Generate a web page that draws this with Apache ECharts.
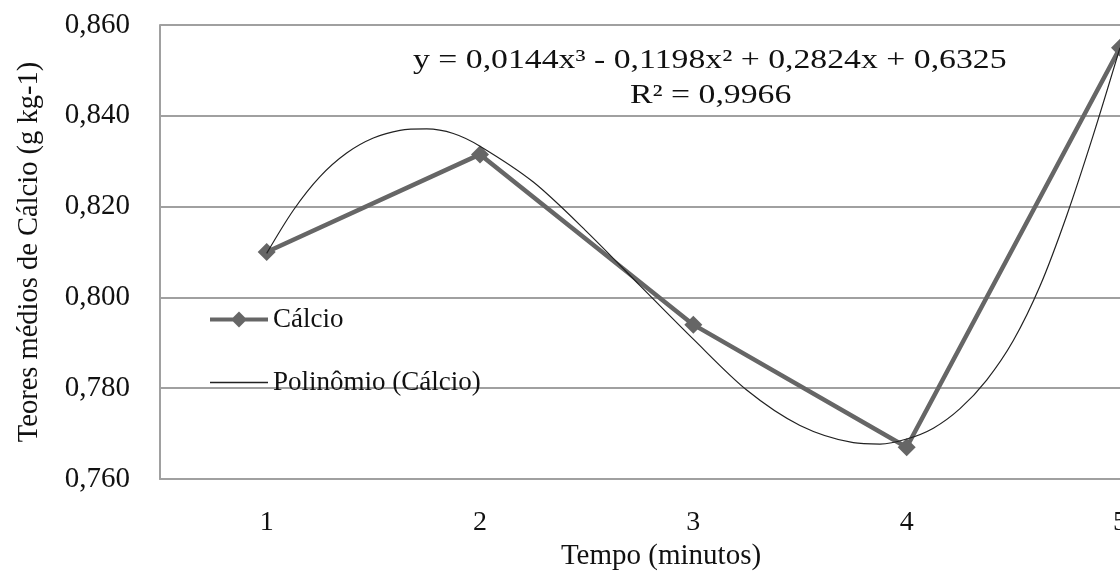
<!DOCTYPE html>
<html lang="pt">
<head>
    <meta charset="UTF-8">
    <title>Teores médios de Cálcio</title>
    <script src="https://cdn.jsdelivr.net/npm/echarts@6/dist/echarts.min.js"></script>
    <style>
        html, body { margin: 0; padding: 0; background: #fff; }
        #charts { width: 1120px; height: 574px; }
    </style>
</head>
<body>
<div id="charts"></div>
<script>
    // dados
    var tempos = [1, 2, 3, 4, 5];
    var calcio = [0.810, 0.8315, 0.794, 0.767, 0.855];
    // curva de tendência (polinômio), lida ponto a ponto na figura
    var polX = [1, 1.125, 1.25, 1.375, 1.5, 1.625, 1.75, 1.875, 2, 2.25, 2.5, 2.75, 3, 3.25, 3.5, 3.75, 3.875,
                4, 4.125, 4.25, 4.375, 4.5, 4.625, 4.75, 4.875, 5];
    var polY = [0.8097, 0.8192, 0.8266, 0.8318, 0.8351, 0.8368, 0.8371, 0.8361, 0.8333, 0.8254, 0.8145, 0.8026,
                0.7908, 0.7796, 0.7718, 0.7680, 0.7677, 0.7688, 0.7712, 0.7755, 0.7818, 0.7905, 0.8025, 0.8180,
                0.8358, 0.8550];
    var yTicks = [0.760, 0.780, 0.800, 0.820, 0.840, 0.860];
    var equacao = 'y = 0,0144x³ - 0,1198x² + 0,2824x + 0,6325';
    var r2 = 'R² = 0,9966';

    var fonte = 'Liberation Serif';
    var myChart = echarts.init(document.getElementById('charts'));

    var dadosCalcio = [];
    for (var i = 0; i < tempos.length; i++) {
        dadosCalcio.push([tempos[i], calcio[i]]);
    }
    var dadosPol = [];
    for (var j = 0; j < polX.length; j++) {
        dadosPol.push([polX[j], polY[j]]);
    }

    var option = {
        backgroundColor: '#fff',
        animation: false,
        grid: {
            left: 160,
            right: 0,
            top: 25,
            bottom: 95,
            containLabel: false,
            outerBoundsMode: 'none'
        },
        legend: {
            orient: 'vertical',
            left: 210,
            top: 306,
            padding: 0,
            itemGap: 36,
            itemWidth: 58,
            itemHeight: 18,
            textStyle: {
                fontFamily: fonte,
                fontSize: 27,
                color: '#111'
            },
            data: [
                {name: 'Cálcio', icon: 'path://M0,7 L58,7 L58,11 L0,11 Z M29,1 L37,9 L29,17 L21,9 Z'},
                {name: 'Polinômio (Cálcio)', icon: 'path://M3,0 L55,0 L55,1.3 L3,1.3 Z'}
            ]
        },
        graphic: [
            {
                type: 'text',
                x: 413,
                y: 47,
                scaleX: 1.25,
                style: {
                    text: equacao,
                    fontFamily: fonte,
                    fontSize: 27,
                    fill: '#111',
                    align: 'left',
                    verticalAlign: 'top'
                }
            },
            {
                type: 'text',
                x: 630,
                y: 82,
                scaleX: 1.25,
                style: {
                    text: r2,
                    fontFamily: fonte,
                    fontSize: 27,
                    fill: '#111',
                    align: 'left',
                    verticalAlign: 'top'
                }
            }
        ],
        xAxis: {
            type: 'value',
            min: 0.5,
            max: 5,
            name: 'Tempo (minutos)',
            nameLocation: 'middle',
            nameGap: 38,
            nameTextStyle: {
                fontFamily: fonte,
                fontSize: 29,
                color: '#111',
                padding: [0, 0, 0, 42]
            },
            axisLine: {
                lineStyle: { color: '#a0a0a0', width: 2 }
            },
            axisTick: { show: false },
            splitLine: { show: false },
            axisLabel: {
                customValues: tempos,
                margin: 30,
                fontFamily: fonte,
                fontSize: 28,
                color: '#111'
            }
        },
        yAxis: {
            type: 'value',
            min: yTicks[0],
            max: yTicks[yTicks.length - 1],
            interval: 0.02,
            name: 'Teores médios de Cálcio (g kg-1)',
            nameLocation: 'middle',
            nameGap: 116,
            nameTextStyle: {
                fontFamily: fonte,
                fontSize: 28.5,
                color: '#111'
            },
            axisLine: {
                show: true,
                lineStyle: { color: '#a0a0a0', width: 2 }
            },
            axisTick: { show: false },
            splitLine: {
                lineStyle: { color: '#a0a0a0', width: 2 }
            },
            axisLabel: {
                margin: 30,
                fontFamily: fonte,
                fontSize: 29,
                color: '#111',
                formatter: function (v) {
                    return v.toFixed(3).replace('.', ',');
                }
            }
        },
        series: [
            {
                name: 'Polinômio (Cálcio)',
                type: 'line',
                data: dadosPol,
                smooth: 0.3,
                showSymbol: false,
                symbol: 'none',
                lineStyle: { color: '#222', width: 1.2 },
                itemStyle: { color: '#222' },
                z: 3
            },
            {
                name: 'Cálcio',
                type: 'line',
                data: dadosCalcio,
                symbol: 'diamond',
                symbolSize: 18,
                lineStyle: { color: '#666', width: 4.5 },
                itemStyle: { color: '#666' },
                z: 2
            }
        ]
    };

    myChart.setOption(option);
</script>
</body>
</html>
